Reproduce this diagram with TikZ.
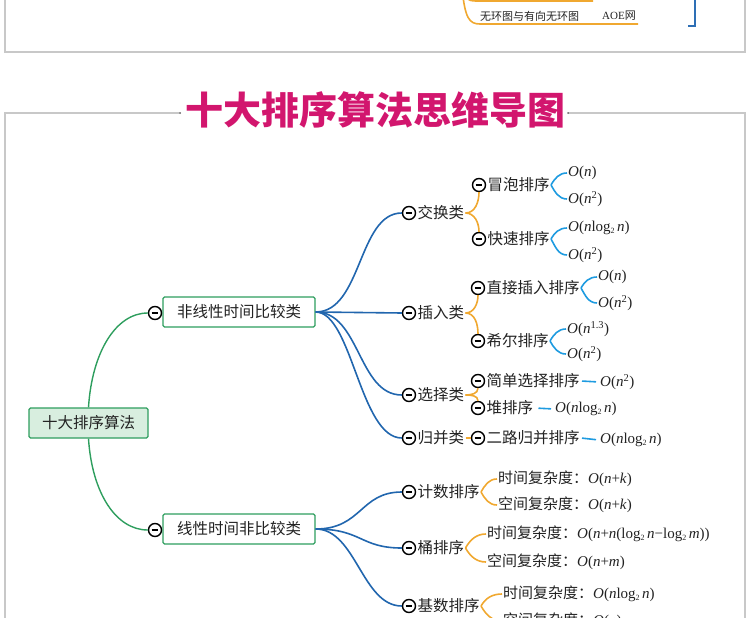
\documentclass[tikz,border=0pt]{standalone}
\usepackage{fontspec}
\setmainfont{Noto Sans CJK SC}
\newfontfamily\tms{Liberation Serif}
\newcommand\Ox[1]{{\tms\textit{O}(#1)}}
\newcommand\nn{\textit{n}}
\newcommand\lgt{log\raisebox{-0.3ex}{\fontsize{8}{8}\selectfont 2}\,}
\newcommand\sqr[1]{\textsuperscript{#1}}
\definecolor{greenc}{HTML}{2E9E5E}
\definecolor{rootfill}{HTML}{D8EEDF}
\definecolor{bluec}{HTML}{2166AE}
\definecolor{orangec}{HTML}{F0A830}
\definecolor{cyanc}{HTML}{1E9BE0}
\definecolor{framec}{HTML}{C8C8C8}
\definecolor{titlec}{HTML}{D2166E}
\definecolor{textc}{HTML}{222222}
\definecolor{topblue}{HTML}{2E6FB5}
\tikzset{
  icon/.style={circle, draw=black, line width=1.4pt, fill=white, minimum size=13pt, inner sep=0pt,
    path picture={\draw[line width=1.7pt] ([xshift=-3.4pt]path picture bounding box.center) -- ([xshift=3.4pt]path picture bounding box.center);}},
  lbl/.style={anchor=west, inner sep=1.2pt, font=\fontsize{15.5}{15.5}\selectfont, text=textc},
  leaf/.style={anchor=west, inner sep=1pt, font=\fontsize{15}{15}\selectfont, text=textc},
  catbox/.style={draw=greenc, line width=1.3pt, fill=white, rounded corners=1.5pt, minimum width=152pt, minimum height=30pt, font=\fontsize{15.5}{15.5}\selectfont, text=textc},
  rootbox/.style={draw=greenc, line width=1.3pt, fill=rootfill, rounded corners=1.5pt, minimum width=119pt, minimum height=30pt, font=\fontsize{15.5}{15.5}\selectfont, text=textc},
  gline/.style={draw=greenc, line width=1.4pt},
  bline/.style={draw=bluec, line width=1.6pt},
  oline/.style={draw=orangec, line width=1.6pt},
  cline/.style={draw=cyanc, line width=1.6pt},
  frame/.style={draw=framec, line width=1.2pt},
}
\begin{document}
\begin{tikzpicture}[x=1pt,y=-1pt]
\useasboundingbox (0,0) rectangle (750,618);
% ---- top fragment of previous diagram ----
\draw[frame] (5,-10) -- (5,52) -- (745,52) -- (745,-10);
\draw[oline] (462,-12) .. controls (464,-2) and (467,1) .. (476,1) -- (593,1);
\draw[oline] (462,-12) .. controls (465,18) and (469,24) .. (480,24) -- (638,24);
\node[anchor=west, inner sep=0pt, font=\fontsize{11}{11}\selectfont, text=textc] (frag1) at (480,16) {无环图与有向无环图};
\node[anchor=west, inner sep=0pt, font=\fontsize{11}{11}\selectfont, text=textc] (frag2) at (602,16) {{\tms AOE}网};
\draw[draw=topblue, line width=1.5pt] (695,-5) -- (695,26) -- (688,26);
% ---- frame and title ----
\draw[frame] (180,113) -- (5,113) -- (5,640);
\draw[frame] (568,113) -- (745,113) -- (745,640);
\fill[black!60] (180,113) circle (1pt) (568,113) circle (1pt);
\node[font=\fontsize{38}{38}\selectfont\bfseries, text=titlec, inner sep=0pt] (title) at (375,110) {十大排序算法思维导图};
% ---- main nodes ----
\node[rootbox] (root) at (88.5,423) {十大排序算法};
\node[catbox] (nl) at (239,312) {非线性时间比较类};
\node[catbox] (ln) at (239,529) {线性时间非比较类};
\node[icon] (inl) at (155,313) {};
\node[icon] (iln) at (155,530) {};
\draw[gline] (root.north) .. controls (92,352) and (116,313) .. (inl.west);
\draw[gline] (root.south) .. controls (92,493) and (116,530) .. (iln.west);
% ---- level 3 ----
\node[icon] (ijh) at (409,213) {};
\node[icon] (icr) at (409,313) {};
\node[icon] (ixz) at (409,395) {};
\node[icon] (igb) at (409,438) {};
\node[icon] (ijs) at (409,492) {};
\node[icon] (itp) at (409,548) {};
\node[icon] (ijx) at (409,606) {};
\node[lbl] (jh) at (ijh.east) {交换类};
\node[lbl] (cr) at (icr.east) {插入类};
\node[lbl] (xz) at (ixz.east) {选择类};
\node[lbl] (gb) at (igb.east) {归并类};
\node[lbl] (js) at (ijs.east) {计数排序};
\node[lbl] (tp) at (itp.east) {桶排序};
\node[lbl] (jx) at (ijx.east) {基数排序};
\draw[bline] (nl.east) .. controls (362,312) and (358,213) .. (ijh.west);
\draw[bline] (nl.east) -- (icr.west);
\draw[bline] (nl.east) .. controls (360,312) and (358,395) .. (ixz.west);
\draw[bline] (nl.east) .. controls (352,312) and (360,438) .. (igb.west);
\draw[bline] (ln.east) .. controls (362,529) and (360,492) .. (ijs.west);
\draw[bline] (ln.east) .. controls (362,529) and (360,548) .. (itp.west);
\draw[bline] (ln.east) .. controls (356,529) and (362,606) .. (ijx.west);
% ---- level 4 ----
\node[icon] (imp) at (479,185) {};
\node[icon] (iks) at (479,239) {};
\node[icon] (izj) at (478,288) {};
\node[icon] (ixe) at (478,341) {};
\node[icon] (ijd) at (478,381) {};
\node[icon] (idp) at (478,408) {};
\node[icon] (iel) at (478,438) {};
\node[lbl] (mp) at (imp.east) {冒泡排序};
\node[lbl] (ks) at (iks.east) {快速排序};
\node[lbl] (zj) at (izj.east) {直接插入排序};
\node[lbl] (xe) at (ixe.east) {希尔排序};
\node[lbl] (jd) at (ijd.east) {简单选择排序};
\node[lbl] (dp) at (idp.east) {堆排序};
\node[lbl] (el) at (iel.east) {二路归并排序};
\draw[oline] (jh.east) to[out=0,in=-90] (imp.south);
\draw[oline] (jh.east) to[out=0,in=90] (iks.north);
\draw[oline] (cr.east) to[out=0,in=-90] (izj.south);
\draw[oline] (cr.east) to[out=0,in=90] (ixe.north);
\draw[oline] (xz.east) to[out=0,in=-90] (ijd.south);
\draw[oline] (xz.east) to[out=0,in=90] (idp.north);
\draw[oline] (gb.east) -- (iel.west);
% ---- leaves ----
\node[leaf] (mp1) at (567,173) {\Ox{\nn}};
\node[leaf] (mp2) at (567,199) {\Ox{\nn\sqr{2}}};
\node[leaf] (ks1) at (567,228) {\Ox{\nn\lgt\nn}};
\node[leaf] (ks2) at (567,255) {\Ox{\nn\sqr{2}}};
\node[leaf] (zj1) at (597,277) {\Ox{\nn}};
\node[leaf] (zj2) at (597,303) {\Ox{\nn\sqr{2}}};
\node[leaf] (xe1) at (566,329) {\Ox{\nn\sqr{1.3}}};
\node[leaf] (xe2) at (566,354) {\Ox{\nn\sqr{2}}};
\node[leaf] (jd1) at (599,382) {\Ox{\nn\sqr{2}}};
\node[leaf] (dp1) at (554,409) {\Ox{\nn\lgt\nn}};
\node[leaf] (el1) at (599,440) {\Ox{\nn\lgt\nn}};
\node[leaf] (js1) at (497,479) {时间复杂度：\Ox{\nn+\textit{k}}};
\node[leaf] (js2) at (497,505) {空间复杂度：\Ox{\nn+\textit{k}}};
\node[leaf] (tp1) at (486,534) {时间复杂度：\Ox{\nn+\nn(\lgt\nn−\lgt\textit{m})}};
\node[leaf] (tp2) at (486,562) {空间复杂度：\Ox{\nn+\textit{m}}};
\node[leaf] (jx1) at (502,594) {时间复杂度：\Ox{\nn\lgt\nn}};
\node[leaf] (jx2) at (502,621) {空间复杂度：\Ox{\nn}};
\draw[cline] (mp.east) to[out=60,in=180] (mp1.west);
\draw[cline] (mp.east) to[out=-60,in=180] (mp2.west);
\draw[cline] (ks.east) to[out=60,in=180] (ks1.west);
\draw[cline] (ks.east) to[out=-60,in=180] (ks2.west);
\draw[cline] (zj.east) to[out=60,in=180] (zj1.west);
\draw[cline] (zj.east) to[out=-60,in=180] (zj2.west);
\draw[cline] (xe.east) to[out=60,in=180] (xe1.west);
\draw[cline] (xe.east) to[out=-60,in=180] (xe2.west);
\draw[cline, shorten <=1pt, shorten >=3pt] (jd.east) -- (jd1.west);
\draw[cline, shorten <=4pt, shorten >=3pt] (dp.east) -- (dp1.west);
\draw[cline, shorten <=1pt, shorten >=3pt] (el.east) -- (el1.west);
\draw[oline] (js.east) to[out=60,in=180] (js1.west);
\draw[oline] (js.east) to[out=-60,in=180] (js2.west);
\draw[oline] (tp.east) to[out=60,in=180] (tp1.west);
\draw[oline] (tp.east) to[out=-60,in=180] (tp2.west);
\draw[oline] (jx.east) to[out=60,in=180] (jx1.west);
\draw[oline] (jx.east) to[out=-60,in=180] (jx2.west);
\end{tikzpicture}
\end{document}
